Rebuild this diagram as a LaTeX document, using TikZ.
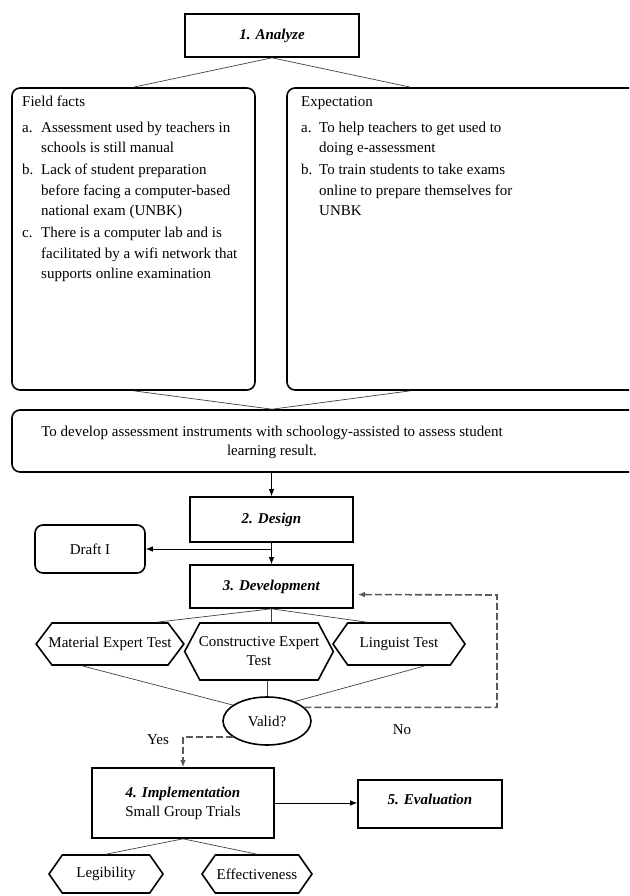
\documentclass[tikz,border=0pt]{standalone}
\usepackage{fontspec}
\setmainfont{Liberation Serif}
\usetikzlibrary{positioning,shapes.geometric,shapes.symbols,arrows.meta}
\renewcommand{\arraystretch}{1.08}

\tikzset{
  stepbox/.style={draw, line width=1.6pt, inner sep=2pt},
  roundbox/.style={draw, line width=1.6pt, rounded corners=8pt},
  hexa/.style={draw, line width=1.6pt, signal, signal to=west and east, signal pointer angle=110, inner sep=1pt},
  link/.style={line width=0.7pt, black!75},
  arr/.style={line width=0.8pt, -{Latex[length=7pt,width=5.5pt]}},
  dashlink/.style={line width=1.6pt, black!65, dash pattern=on 7pt off 3pt},
}

\begin{document}
\begin{tikzpicture}[x=1pt,y=-1pt,font=\fontsize{15}{19}\selectfont]
\useasboundingbox (0,0) rectangle (629,896);
\clip (0,0) rectangle (629,896);

%Nodes
\node[stepbox, minimum width=174, minimum height=43] at (272,35.5) (analyze) {\textbf{\textit{1. Analyze}}};
\node[roundbox, minimum width=243, minimum height=302] at (133.5,239) (facts) {};
\node[roundbox, minimum width=353, minimum height=302] at (463.5,239) (expect) {};
\node[anchor=north west, inner sep=0pt] at (22,92) (factstxt) {%
  \begin{tabular}{@{}p{19pt}@{}l@{}}
  \multicolumn{2}{@{}l@{}}{Field facts}\\[5pt]
  a. & Assessment used by teachers in\\
     & schools is still manual\\[1.5pt]
  b. & Lack of student preparation\\
     & before facing a computer-based\\
     & national exam (UNBK)\\[1.5pt]
  c. & There is a computer lab and is\\
     & facilitated by a wifi network that\\
     & supports online examination
  \end{tabular}};
\node[anchor=north west, inner sep=0pt] at (301,92) (expecttxt) {%
  \begin{tabular}{@{}p{18pt}@{}l@{}}
  \multicolumn{2}{@{}l@{}}{Expectation}\\[5pt]
  a. & To help teachers to get used to\\
     & doing e-assessment\\[1.5pt]
  b. & To train students to take exams\\
     & online to prepare themselves for\\
     & UNBK
  \end{tabular}};
\node[roundbox, minimum width=628, minimum height=62] at (326,441) (goal) {};
\node[align=center, inner sep=0pt] at (272,442) (goaltxt) {To develop assessment instruments with schoology-assisted to assess student\\ learning result.};
\node[stepbox, minimum width=163, minimum height=45] at (271.5,519.5) (design) {\textbf{\textit{2. Design}}};
\node[roundbox, minimum width=110, minimum height=48] at (90,549) (draft) {Draft I};
\node[stepbox, minimum width=163, minimum height=43] at (271.5,586.5) (devel) {\textbf{\textit{3. Development}}};
\node[hexa, minimum width=146, minimum height=42, inner xsep=-3.5pt, signal pointer angle=106] at (110,644) (mat) {Material Expert Test};
\node[hexa, minimum width=148, minimum height=57, inner xsep=-1pt, signal pointer angle=124, align=center] at (259,651.5) (cons) {Constructive Expert\\ Test};
\node[hexa, minimum width=132, minimum height=42] at (399,644) (ling) {Linguist Test};
\node[draw, ellipse, line width=1.6pt, minimum width=88, minimum height=48, inner sep=1pt] at (267,721) (valid) {Valid?};
\node at (402,730) (no) {No};
\node at (158,740) (yes) {Yes};
\node[stepbox, minimum width=182, minimum height=70, align=center] at (183,803) (impl) {\textbf{\textit{4. Implementation}}\\ Small Group Trials};
\node[stepbox, minimum width=144, minimum height=48, text depth=10pt] at (430,804) (eval) {\textbf{\textit{5. Evaluation}}};
\node[hexa, minimum width=114, minimum height=38] at (106,874) (legi) {Legibility};
\node[hexa, minimum width=110, minimum height=38] at (257,874) (effe) {Effectiveness};
\coordinate (nocorner) at (497,595);

%Lines
\draw[link] (analyze.south) -- (facts.north);
\draw[link] (analyze.south) -- ([xshift=-53pt]expect.north);
\draw[link] (facts.south) -- (goaltxt |- goal.north);
\draw[link] ([xshift=-53pt]expect.south) -- (goaltxt |- goal.north);
\draw[arr] (design.north |- goal.south) -- (design.north);
\draw[arr] (design.south) -- (devel.north);
\draw[arr] (design.south |- draft.east) -- (draft.east);
\draw[link] (devel.south) -- ([xshift=47pt]mat.north);
\draw[link] (devel.south) -- (devel.south |- cons.north);
\draw[link] (devel.south) -- ([xshift=-32pt]ling.north);
\draw[link] ([xshift=-28pt]mat.south) -- (valid.155);
\draw[link] (valid.north |- cons.south) -- (valid.north);
\draw[link] ([xshift=26pt]ling.south) -- (valid.35);
\draw[dashlink, -{Latex[length=7pt,width=5.5pt]}, shorten >=4pt] (valid.20) -| (nocorner) -- ([yshift=-8pt]devel.east);
\draw[dashlink, -{Latex[length=7pt,width=5.5pt]}] (valid.205) -| (impl.north);
\draw[arr] (impl.east) -- (impl.east -| eval.west);
\draw[link] (impl.south) -- (legi.north);
\draw[link] (impl.south) -- (effe.north);
\end{tikzpicture}
\end{document}
